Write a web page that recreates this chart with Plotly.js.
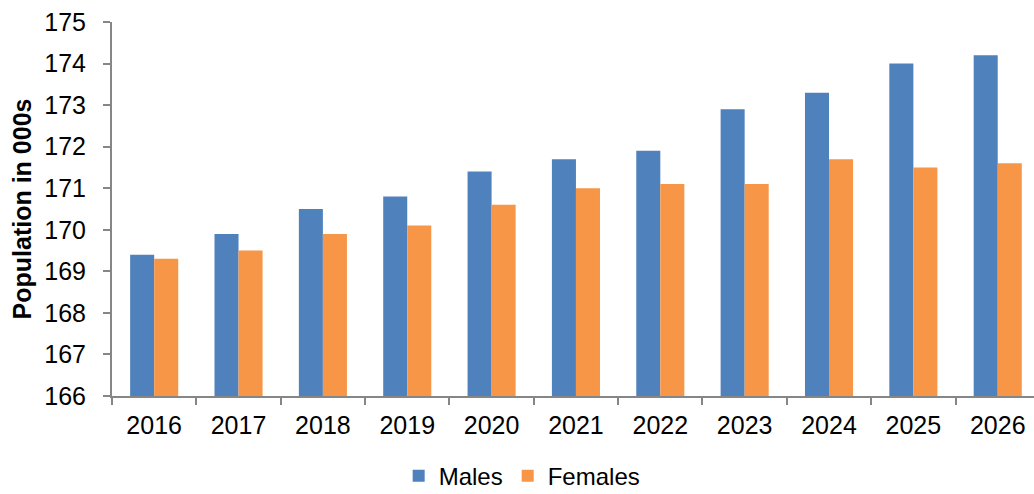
<!DOCTYPE html>
<html>
<head>
<meta charset="utf-8">
<script src="https://cdn.plot.ly/plotly-3.0.1.min.js"></script>
<style>
  html, body { margin: 0; padding: 0; background: #fff; }
  #gd { width: 1034px; height: 494px; }
</style>
</head>
<body>
<div id="gd"></div>
<script>
let years = ['2016', '2017', '2018', '2019', '2020', '2021', '2022', '2023', '2024', '2025', '2026'];
let malesPop = [169.4, 169.9, 170.5, 170.8, 171.4, 171.7, 171.9, 172.9, 173.3, 174.0, 174.2];
let femalesPop = [169.3, 169.5, 169.9, 170.1, 170.6, 171.0, 171.1, 171.1, 171.7, 171.5, 171.6];
let yTicks = [166, 167, 168, 169, 170, 171, 172, 173, 174, 175];

// bars are drawn from 166 upward, so the bar length is value - 166
let males = {
  type: 'bar',
  x: years,
  y: malesPop.map(v => v - 166),
  base: 166,
  customdata: malesPop,
  name: 'Males',
  marker: { color: '#4F81BD' },
  hovertemplate: '%{x}: %{customdata}<extra>Males</extra>'
};

let females = {
  type: 'bar',
  x: years,
  y: femalesPop.map(v => v - 166),
  base: 166,
  customdata: femalesPop,
  name: 'Females',
  marker: { color: '#F79646' },
  hovertemplate: '%{x}: %{customdata}<extra>Females</extra>'
};

let layout = {
  width: 1034,
  height: 494,
  margin: { l: 112, r: 0, t: 22, b: 98 },
  paper_bgcolor: '#ffffff',
  plot_bgcolor: '#ffffff',
  font: { family: 'Liberation Sans, Arial, sans-serif', size: 26, color: '#000000' },
  barmode: 'group',
  bargap: 0.43,
  bargroupgap: 0,
  showlegend: true,
  xaxis: {
    type: 'category',
    range: [-0.5, 10.43],
    autorange: false,
    showgrid: false,
    showline: true,
    linecolor: '#868686',
    linewidth: 2,
    ticks: 'outside',
    tickson: 'boundaries',
    ticklen: 7,
    tickwidth: 2,
    tickcolor: '#868686',
    ticklabelstandoff: 6,
    tickfont: { size: 25 }
  },
  yaxis: {
    range: [166, 175],
    autorange: false,
    tickvals: yTicks,
    ticktext: yTicks.map(String),
    showgrid: false,
    zeroline: false,
    showline: true,
    linecolor: '#868686',
    linewidth: 2,
    ticks: 'outside',
    ticklen: 7,
    tickwidth: 2,
    tickcolor: '#868686',
    ticklabelstandoff: 12,
    tickfont: { size: 25 },
    title: {
      text: '<b>Population in 000s</b>',
      font: { size: 25 },
      standoff: 6
    }
  },
  legend: {
    orientation: 'h',
    xref: 'container',
    yref: 'container',
    x: 0.505,
    xanchor: 'center',
    y: 0.036,
    yanchor: 'middle',
    font: { size: 24 },
    itemwidth: 30,
    tracegroupgap: 0
  }
};

Plotly.newPlot('gd', [males, females], layout, { displayModeBar: false });
</script>
</body>
</html>
